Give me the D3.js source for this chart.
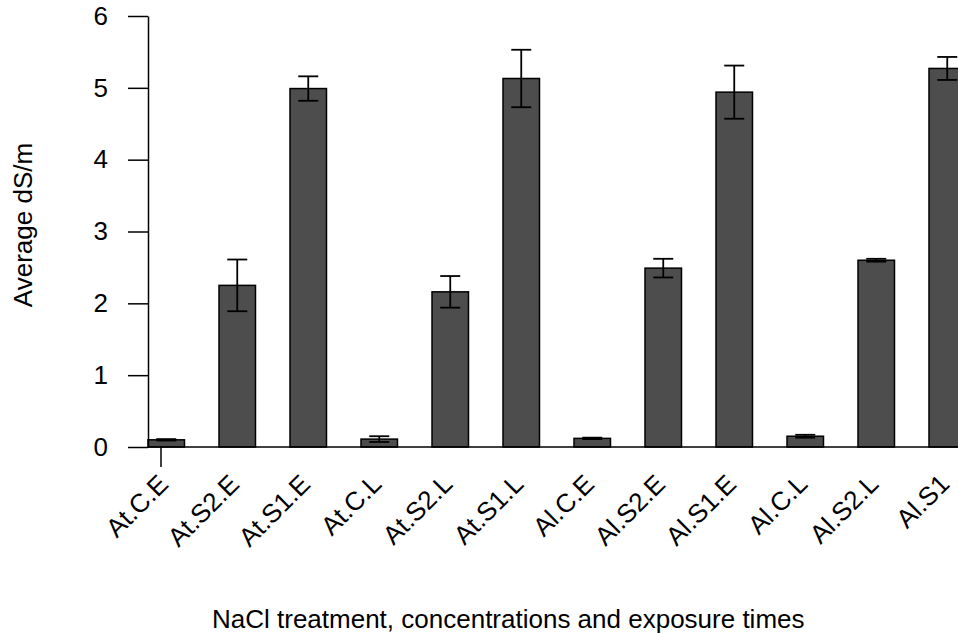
<!DOCTYPE html>
<html>
<head>
<meta charset="utf-8">
<script src="https://d3js.org/d3.v7.min.js"></script>
<style>
body { margin: 0; background: #fff; }
svg { display: block; font-family: "Liberation Sans", Arial, sans-serif; }
</style>
</head>
<body>
<svg width="958" height="633"></svg>
<script>
// values
var categories = ["At.C.E", "At.S2.E", "At.S1.E", "At.C.L", "At.S2.L", "At.S1.L",
                  "Al.C.E", "Al.S2.E", "Al.S1.E", "Al.C.L", "Al.S2.L", "Al.S1"];
var means = [0.10, 2.25, 4.99, 0.11, 2.16, 5.13, 0.12, 2.49, 4.94, 0.15, 2.60, 5.27];
var errors = [0.01, 0.36, 0.17, 0.04, 0.22, 0.40, 0.01, 0.13, 0.37, 0.02, 0.02, 0.16];
var yTicks = [0, 1, 2, 3, 4, 5, 6];

var data = categories.map(function(c, i) { return {name: c, mean: means[i], err: errors[i]}; });

var svg = d3.select("svg");
var fontSize = 26;

var x = d3.scaleBand()
    .domain(categories)
    .range([148, 148 + 71 * categories.length])
    .paddingInner(0.486)
    .paddingOuter(0.243)
    .align(0);
var y = d3.scaleLinear().domain([0, 6]).range([447, 16]);

// bars
svg.append("g").selectAll("rect")
    .data(data)
    .enter().append("rect")
    .attr("x", function(d) { return x(d.name); })
    .attr("y", function(d) { return y(d.mean); })
    .attr("width", x.bandwidth())
    .attr("height", function(d) { return y(0) - y(d.mean); })
    .attr("fill", "#4d4d4d")
    .attr("stroke", "#000")
    .attr("stroke-width", 1.5);

// error bars
var capW = 10;
var eb = svg.append("g").attr("stroke", "#000").attr("stroke-width", 1.8);
data.forEach(function(d) {
    var cx = x(d.name) + x.bandwidth() / 2;
    eb.append("line").attr("x1", cx).attr("x2", cx)
        .attr("y1", y(d.mean + d.err)).attr("y2", y(d.mean - d.err));
    eb.append("line").attr("x1", cx - capW).attr("x2", cx + capW)
        .attr("y1", y(d.mean + d.err)).attr("y2", y(d.mean + d.err));
    eb.append("line").attr("x1", cx - capW).attr("x2", cx + capW)
        .attr("y1", y(d.mean - d.err)).attr("y2", y(d.mean - d.err));
});

// baseline
svg.append("line")
    .attr("x1", x.range()[0]).attr("x2", 958)
    .attr("y1", y(0)).attr("y2", y(0))
    .attr("stroke", "#000").attr("stroke-width", 1.5);

// y axis
var yAxis = svg.append("g")
    .attr("transform", "translate(148,0)")
    .call(d3.axisLeft(y).tickValues(yTicks).tickSize(20).tickPadding(20).tickSizeOuter(0).tickFormat(d3.format("d")));
yAxis.select(".domain").attr("stroke-width", 1.5);
yAxis.selectAll(".tick line").attr("stroke-width", 1.5);
yAxis.selectAll("text").attr("font-size", fontSize).attr("font-family", null).attr("fill", "#000");

// single x tick under the first bar
var tickX = x(categories[0]) + 13;
svg.append("line")
    .attr("x1", tickX).attr("x2", tickX)
    .attr("y1", y(0)).attr("y2", y(0) + 20)
    .attr("stroke", "#000").attr("stroke-width", 1.5);

// rotated category labels (right end, vertically centred, near the bar centre)
svg.append("g").selectAll("text")
    .data(categories)
    .enter().append("text")
    .attr("transform", function(d) {
        return "translate(" + (x(d) + x.bandwidth() / 2 - 3) + ",479) rotate(-45)";
    })
    .attr("text-anchor", "end")
    .attr("dy", "0.36em")
    .attr("font-size", fontSize)
    .text(function(d) { return d; });

// axis titles
svg.append("text")
    .attr("x", 212).attr("y", 628)
    .attr("font-size", fontSize)
    .text("NaCl treatment, concentrations and exposure times");

svg.append("text")
    .attr("transform", "translate(32,225) rotate(-90)")
    .attr("text-anchor", "middle")
    .attr("font-size", fontSize)
    .text("Average dS/m");
</script>
</body>
</html>
